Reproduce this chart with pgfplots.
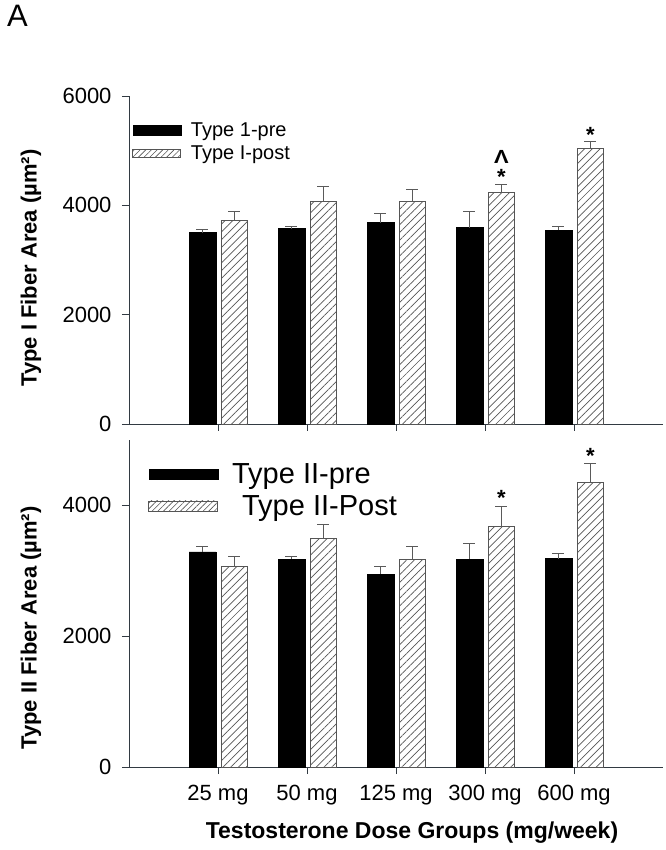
\documentclass[border=0pt]{standalone}
\usepackage{pgfplots}
\usepackage{pgfplotstable}
\usepackage{graphicx}
\pgfplotsset{compat=1.18}
\usepackage{fontspec}
\setmainfont{Liberation Sans}
\usetikzlibrary{patterns.meta}
\definecolor{axisgray}{RGB}{50,58,66}
\definecolor{errgray}{RGB}{90,90,90}
\definecolor{hatchgray}{RGB}{85,85,85}
\newcommand\caret{{\fontsize{19bp}{19bp}\selectfont\scalebox{1.15}[1]{\textbf{Λ}}}}

% xpre / xpost: bar centres (group position 1..5 shifted left / right)
\pgfplotstableread{
xpre xpost pre preerr post posterr
0.825 1.185 3501 55 3727 153
1.825 2.185 3575 30 4063 275
2.825 3.185 3685 165 4063 233
3.825 4.185 3593 287 4228 153
4.825 5.185 3544 61 5041 135
}\topdata

\pgfplotstableread{
xpre xpost pre preerr post posterr
0.825 1.185 3289 81 3065 147
1.825 2.185 3177 40 3492 218
2.825 3.185 2948 117 3172 198
3.825 4.185 3177 244 3675 315
4.825 5.185 3187 76 4346 294
}\botdata

\pgfplotsset{
  myaxis/.style={
    scale only axis, width=534bp,
    xmin=0, xmax=6, ymin=0,
    axis lines*=left,
    axis line style={draw=axisgray, line width=0.9bp},
    tick align=outside,
    major tick length=7bp,
    tick style={draw=axisgray, line width=0.9bp},
    xtick={1,2,3,4,5},
    tick label style={font=\fontsize{22bp}{24bp}\selectfont},
    yticklabel style={xshift=-7bp},
    /pgf/number format/assume math mode=true,
    /pgf/number format/1000 sep={},
    clip=false,
  },
  errstyle/.style={
    error bars/y dir=plus, error bars/y explicit,
    error bars/error bar style={draw=errgray, line width=1bp},
    error bars/error mark options={draw=errgray, rotate=90, mark size=6bp, line width=1bp}},
  prebar/.style={ybar, bar width=0.30, bar shift=0, fill=black, draw=black, errstyle},
  postbar/.style={ybar, bar width=0.30, bar shift=0, draw=hatchgray, line width=0.8bp,
    pattern={Lines[angle=45,distance=5.5bp,line width=0.7bp]}, pattern color=hatchgray, errstyle},
  annot/.style={draw=none, mark=none, forget plot, nodes near coords, point meta=explicit symbolic,
    every node near coord/.append style={anchor=center, inner sep=0pt, font=\fontsize{22bp}{22bp}\selectfont\bfseries, text=black}},
}

\begin{document}
\begin{tikzpicture}
\useasboundingbox (0,0) rectangle (666bp,850bp);

% ---------- Top panel ----------
\begin{axis}[myaxis,
  at={(129bp,426bp)}, anchor=south west,
  height=328bp, ymax=6000,
  ytick={0,2000,4000,6000},
  xticklabels={},
  ylabel={\bfseries Type I Fiber Area (µm²)},
  ylabel style={at={(axis description cs:-0.1835,0.475)}, anchor=center, font=\fontsize{22bp}{24bp}\selectfont},
  title={A},
  title style={at={(axis description cs:-0.2285,1.259)}, anchor=north west, inner sep=0pt, font=\fontsize{31bp}{31bp}\selectfont},
  legend style={at={(axis description cs:0.006,0.925)}, anchor=north west, draw=none, fill=none,
    inner sep=0pt, row sep=4bp, font=\fontsize{20bp}{22bp}\selectfont,
    /tikz/every odd column/.style={column sep=8bp}},
  legend cell align=left,
]
\addplot[prebar,
  legend image code/.code={\fill[black] (0bp,-5bp) rectangle (48bp,5bp);}]
  table[x=xpre, y=pre, y error=preerr] {\topdata};
\addlegendentry{Type 1-pre}
\addplot[postbar,
  legend image code/.code={\draw[draw=hatchgray, line width=0.7bp, pattern={Lines[angle=45,distance=4bp,line width=0.6bp]}, pattern color=hatchgray] (0bp,-4bp) rectangle (48bp,4bp);}]
  table[x=xpost, y=post, y error=posterr] {\topdata};
\addlegendentry{Type I-post}
\addplot[annot] coordinates {(4.185,4520)[*] (4.185,4880)[\caret] (5.185,5290)[*]};
\end{axis}

% ---------- Bottom panel ----------
\begin{axis}[myaxis,
  at={(129bp,83bp)}, anchor=south west,
  height=327bp, ymax=5000,
  ytick={0,2000,4000},
  xticklabels={25 mg, 50 mg, 125 mg, 300 mg, 600 mg},
  xticklabel style={yshift=-8bp},
  ylabel={\bfseries Type II Fiber Area (µm²)},
  ylabel style={at={(axis description cs:-0.1835,0.425)}, anchor=center, font=\fontsize{22bp}{24bp}\selectfont},
  xlabel={\bfseries Testosterone Dose Groups (mg/week)},
  xlabel style={at={(axis description cs:0.53,-0.202)}, anchor=center, font=\fontsize{23bp}{26bp}\selectfont},
  legend style={at={(axis description cs:0.036,0.934)}, anchor=north west, draw=none, fill=none,
    inner sep=0pt, row sep=6bp, font=\fontsize{29bp}{32bp}\selectfont,
    /tikz/every odd column/.style={column sep=12bp}},
  legend cell align=left,
]
\addplot[prebar,
  legend image code/.code={\fill[black] (0bp,-5bp) rectangle (69bp,5bp);}]
  table[x=xpre, y=pre, y error=preerr] {\botdata};
\addlegendentry{Type II-pre}
\addplot[postbar,
  legend image code/.code={\draw[draw=hatchgray, line width=0.7bp, pattern={Lines[angle=45,distance=4bp,line width=0.6bp]}, pattern color=hatchgray] (0bp,-5bp) rectangle (69bp,5bp);}]
  table[x=xpost, y=post, y error=posterr] {\botdata};
\addlegendentry{\hspace{10bp}Type II-Post}
\addplot[annot] coordinates {(4.185,4110)[*] (5.185,4750)[*]};
\end{axis}
\end{tikzpicture}
\end{document}
